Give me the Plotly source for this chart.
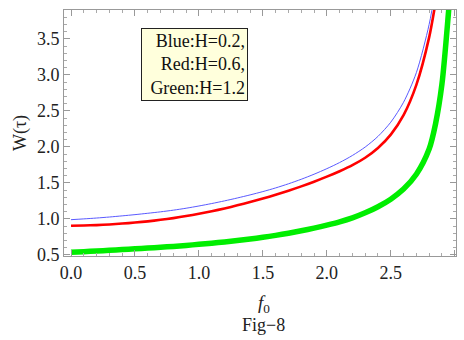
import plotly.graph_objects as go

# Data (f0 values and W(tau) for each H)
f_blue = [0.0, 0.1, 0.2, 0.3, 0.4, 0.5, 0.6, 0.7, 0.8, 0.9, 1.0, 1.1, 1.2, 1.3, 1.4, 1.5, 1.6, 1.7, 1.8, 1.9,
          2.0, 2.1, 2.2, 2.3, 2.4, 2.5, 2.6, 2.7, 2.8, 2.85]
w_blue = [0.990, 1.001, 1.013, 1.027, 1.043, 1.060, 1.079, 1.099, 1.122, 1.149, 1.180, 1.214, 1.251, 1.291, 1.334,
          1.380, 1.431, 1.488, 1.551, 1.621, 1.698, 1.783, 1.881, 1.998, 2.146, 2.343, 2.62, 3.03, 3.70, 4.20]

f_red = [0.0, 0.1, 0.2, 0.3, 0.4, 0.5, 0.6, 0.7, 0.8, 0.9, 1.0, 1.1, 1.2, 1.3, 1.4, 1.5, 1.6, 1.7, 1.8, 1.9,
         2.0, 2.1, 2.2, 2.3, 2.4, 2.5, 2.6, 2.7, 2.8, 2.85, 2.88]
w_red = [0.905, 0.909, 0.915, 0.924, 0.936, 0.950, 0.967, 0.988, 1.012, 1.040, 1.072, 1.107, 1.146, 1.189, 1.235,
         1.284, 1.336, 1.392, 1.452, 1.517, 1.587, 1.663, 1.747, 1.850, 1.985, 2.17, 2.44, 2.86, 3.52, 4.00, 4.30]

f_green = [0.0, 0.1, 0.2, 0.3, 0.4, 0.5, 0.6, 0.7, 0.8, 0.9, 1.0, 1.1, 1.2, 1.3, 1.4, 1.5, 1.6, 1.7, 1.8, 1.9,
           2.0, 2.1, 2.2, 2.3, 2.4, 2.5, 2.6, 2.7, 2.8, 2.85, 2.9, 2.95, 2.97]
w_green = [0.537, 0.546, 0.555, 0.565, 0.575, 0.585, 0.596, 0.607, 0.619, 0.633, 0.648, 0.664, 0.681, 0.700, 0.721,
           0.745, 0.772, 0.802, 0.836, 0.873, 0.914, 0.960, 1.015, 1.085, 1.170, 1.275, 1.415, 1.62, 1.97, 2.32,
           2.87, 3.84, 4.30]

x_ticks = [0.0, 0.5, 1.0, 1.5, 2.0, 2.5, 3.0]
y_ticks = [0.5, 1.0, 1.5, 2.0, 2.5, 3.0, 3.5]
legend_lines = ["Blue:H=0.2,", "Red:H=0.6,", "Green:H=1.2"]

serif = "Liberation Serif, Times New Roman, DejaVu Serif, serif"

fig = go.Figure()
fig.add_trace(go.Scatter(x=f_green, y=w_green, mode="lines", line=dict(color="#00ee00", width=5.5, shape="spline", smoothing=0.8), showlegend=False))
fig.add_trace(go.Scatter(x=f_red, y=w_red, mode="lines", line=dict(color="#ff0000", width=2.6, shape="spline", smoothing=0.8), showlegend=False))
fig.add_trace(go.Scatter(x=f_blue, y=w_blue, mode="lines", line=dict(color="#5a5aff", width=1, shape="spline", smoothing=0.8), showlegend=False))

axis_common = dict(
    showgrid=False, zeroline=False, showline=True, linecolor="#999999", linewidth=1,
    mirror="ticks", ticks="inside", ticklen=6, tickcolor="#999999", tickwidth=1,
    tickfont=dict(family=serif, size=18, color="#222222"),
    minor=dict(ticks="inside", ticklen=3, tickcolor="#aaaaaa", dtick=0.1),
)

fig.update_xaxes(range=[-0.055, 3.01], tickvals=x_ticks, ticktext=[f"{v:.1f}" for v in x_ticks], **axis_common)
fig.update_yaxes(range=[0.486, 3.90], tickvals=y_ticks, ticktext=[f"{v:.1f}" for v in y_ticks], **axis_common)

fig.add_annotation(
    xref="paper", yref="paper", x=0.196, y=0.925, xanchor="left", yanchor="top",
    text="<br>".join(legend_lines), align="right", showarrow=False,
    font=dict(family=serif, size=18, color="#111111"),
    bgcolor="#ffffdc", bordercolor="#222222", borderwidth=1, borderpad=2, width=101,
)
fig.add_annotation(
    xref="paper", yref="paper", x=-0.112, y=0.5, xanchor="center", yanchor="middle",
    text="W(τ)", textangle=-90, showarrow=False,
    font=dict(family=serif, size=18, color="#222222"),
)
fig.add_annotation(
    xref="paper", yref="paper", x=0.51, y=-0.195, xanchor="center", yanchor="middle",
    text="<i>f</i><sub>0</sub>", showarrow=False,
    font=dict(family=serif, size=19, color="#222222"),
)
fig.add_annotation(
    xref="paper", yref="paper", x=0.51, y=-0.28, xanchor="center", yanchor="middle",
    text="Fig−8", showarrow=False,
    font=dict(family=serif, size=18, color="#222222"),
)

fig.update_layout(
    width=464, height=340,
    margin=dict(l=64, r=8, t=10, b=84),
    paper_bgcolor="white", plot_bgcolor="white",
)

fig.write_html("out.html")
